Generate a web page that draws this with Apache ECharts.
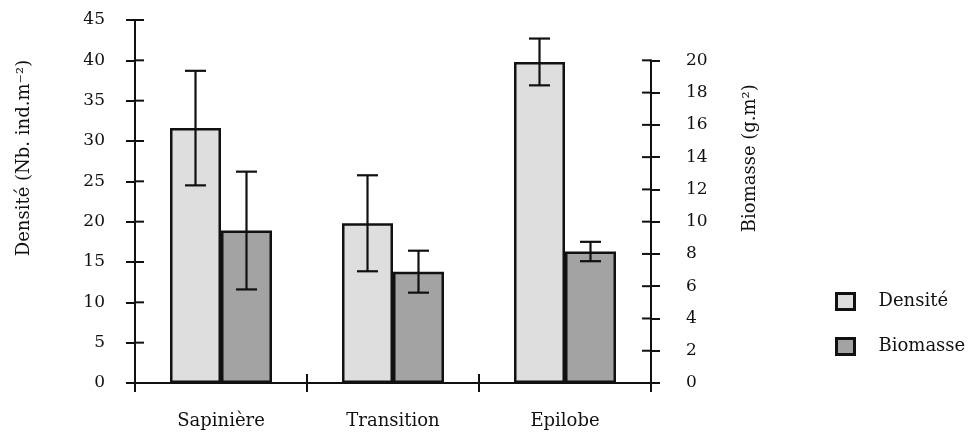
<!DOCTYPE html>
<html>
<head>
<meta charset="utf-8">
<script src="https://cdn.jsdelivr.net/npm/echarts@6/dist/echarts.min.js"></script>
<style>
html,body{margin:0;padding:0;background:#fff;}
#chart{width:974px;height:434px;}
</style>
</head>
<body>
<div id="chart"></div>
<script>
var categories = ['Sapinière', 'Transition', 'Epilobe'];
var densite = [31.6, 19.8, 39.8];
var densiteErr = [7.1, 5.95, 2.9];
var biomasse = [9.45, 6.9, 8.15];
var biomasseErr = [3.65, 1.3, 0.6];
var densiteTicks = [0, 5, 10, 15, 20, 25, 30, 35, 40, 45];
var biomasseTicks = [0, 2, 4, 6, 8, 10, 12, 14, 16, 18, 20];
var seriesNames = ['Densité', 'Biomasse'];
var densiteTitle = 'Densité (Nb. ind.m⁻²)';
var biomasseTitle = 'Biomasse (g.m²)';

var FONT = 'DejaVu Serif';
var INK = '#111111';
var BAR_W = 51;
var TICK = 9;

function errData(mean, err) {
  return mean.map(function (m, i) { return [i, m - err[i], m + err[i]]; });
}
function errRender(sign) {
  return function (params, api) {
    var lo = api.coord([api.value(0), api.value(1)]);
    var hi = api.coord([api.value(0), api.value(2)]);
    var cx = lo[0] + sign * BAR_W / 2;
    var cap = 10.5;
    var st = { stroke: INK, lineWidth: 2.2 };
    return {
      type: 'group',
      children: [
        { type: 'line', shape: { x1: cx, y1: lo[1], x2: cx, y2: hi[1] }, style: st },
        { type: 'line', shape: { x1: cx - cap, y1: lo[1], x2: cx + cap, y2: lo[1] }, style: st },
        { type: 'line', shape: { x1: cx - cap, y1: hi[1], x2: cx + cap, y2: hi[1] }, style: st }
      ]
    };
  };
}
// inward half of the crossing axis ticks (outward half is drawn by the axes)
function yTickRender(side) {
  return function (params, api) {
    var p = api.coord([api.value(0), api.value(1)]);
    var half = api.size([1, 0])[0] / 2;
    var x = side < 0 ? p[0] - half : p[0] + half;
    return { type: 'line', shape: { x1: x, y1: p[1], x2: x - side * TICK, y2: p[1] },
             style: { stroke: INK, lineWidth: 2 } };
  };
}
function xTickRender(params, api) {
  var p = api.coord([api.value(0), 0]);
  var x = p[0] + api.size([1, 0])[0] / 2;
  return { type: 'line', shape: { x1: x, y1: p[1], x2: x, y2: p[1] - TICK },
           style: { stroke: INK, lineWidth: 2 } };
}

var lineSt = { color: INK, width: 2 };
var tickOut = { show: true, inside: false, length: TICK, lineStyle: lineSt };
var labelStyle = { color: INK, fontFamily: FONT, fontSize: 17 };

var chart = echarts.init(document.getElementById('chart'));
chart.setOption({
  animation: false,
  backgroundColor: '#fff',
  grid: [
    { left: 135, width: 516, top: 20, bottom: 51 },
    { left: 135, width: 516, top: 20 + 363 / 9, bottom: 51 }
  ],
  legend: {
    data: seriesNames,
    orient: 'vertical',
    icon: 'rect',
    left: 830,
    top: 287,
    itemWidth: 18,
    itemHeight: 16,
    itemGap: 26,
    itemStyle: { borderColor: INK, borderWidth: 3 },
    textStyle: { color: INK, fontFamily: FONT, fontSize: 18, padding: [0, 0, 0, 19] }
  },
  xAxis: [
    {
      gridIndex: 0, type: 'category', data: categories,
      axisLine: { show: true, lineStyle: lineSt },
      axisTick: tickOut,
      axisLabel: { color: INK, fontFamily: FONT, fontSize: 18, margin: 29 },
      splitLine: { show: false }
    },
    { gridIndex: 1, type: 'category', data: categories, show: false }
  ],
  yAxis: [
    {
      gridIndex: 0, type: 'value', position: 'left', min: 0, max: 45, interval: 5,
      axisLine: { show: true, onZero: false, lineStyle: lineSt },
      axisTick: tickOut,
      axisLabel: Object.assign({ margin: 30 }, labelStyle),
      splitLine: { show: false },
      name: densiteTitle, nameLocation: 'middle', nameGap: 102,
      nameTextStyle: { color: INK, fontFamily: FONT, fontSize: 18, padding: [0, 0, 0, 87] }
    },
    {
      gridIndex: 0, type: 'value', min: 0, max: 22.5, show: false, splitLine: { show: false }
    },
    {
      gridIndex: 1, type: 'value', position: 'right', min: 0, max: 20, interval: 2,
      axisLine: { show: true, onZero: false, lineStyle: lineSt },
      axisTick: tickOut,
      axisLabel: Object.assign({ margin: 35 }, labelStyle),
      splitLine: { show: false },
      name: biomasseTitle, nameLocation: 'middle', nameGap: 90,
      nameTextStyle: { color: INK, fontFamily: FONT, fontSize: 18, padding: [0, 0, 0, 127] }
    }
  ],
  series: [
    {
      name: seriesNames[0], type: 'bar', xAxisIndex: 0, yAxisIndex: 0,
      data: densite, barWidth: BAR_W, barGap: '0%',
      itemStyle: { color: '#dedede', borderColor: INK, borderWidth: 2.5 }
    },
    {
      name: seriesNames[1], type: 'bar', xAxisIndex: 0, yAxisIndex: 1,
      data: biomasse, barWidth: BAR_W, barGap: '0%',
      itemStyle: { color: '#a3a3a3', borderColor: INK, borderWidth: 2.5 }
    },
    {
      type: 'custom', xAxisIndex: 0, yAxisIndex: 0, z: 5, clip: false, silent: true,
      data: errData(densite, densiteErr), renderItem: errRender(-1)
    },
    {
      type: 'custom', xAxisIndex: 0, yAxisIndex: 1, z: 5, clip: false, silent: true,
      data: errData(biomasse, biomasseErr), renderItem: errRender(1)
    },
    {
      type: 'custom', xAxisIndex: 0, yAxisIndex: 0, z: 6, clip: false, silent: true,
      data: densiteTicks.map(function (v) { return [0, v]; }), renderItem: yTickRender(-1)
    },
    {
      type: 'custom', xAxisIndex: 0, yAxisIndex: 1, z: 6, clip: false, silent: true,
      data: biomasseTicks.map(function (v) { return [categories.length - 1, v]; }), renderItem: yTickRender(1)
    },
    {
      type: 'custom', xAxisIndex: 0, yAxisIndex: 0, z: 6, clip: false, silent: true,
      data: categories.slice(0, -1).map(function (c, i) { return [i, 0]; }), renderItem: xTickRender
    }
  ]
});
</script>
</body>
</html>
